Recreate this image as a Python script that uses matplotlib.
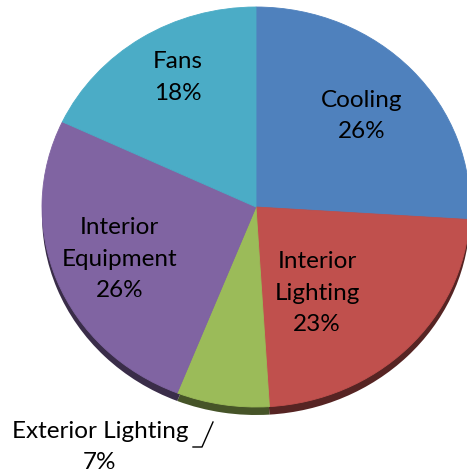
import matplotlib.pyplot as plt
import matplotlib.colors as mcolors
import numpy as np

# Energy end-use breakdown
categories = ['Cooling', 'Interior\nLighting', 'Exterior Lighting', 'Interior\nEquipment', 'Fans']
shares = [26, 23, 7, 26, 18]
colors = ['#4F81BD', '#C0504D', '#9BBB59', '#8064A2', '#4BACC6']

# label centres in pie-radius units (x: horizontal radius, y: vertical radius)
label_pos = [(0.495, 0.455), (0.285, -0.43), (-0.729, -1.198), (-0.638, -0.26), (-0.364, 0.6475)]

plt.rcParams['font.family'] = ['Lato', 'DejaVu Sans']

fig = plt.figure(figsize=(4.67, 4.73), dpi=100)
ax = fig.add_axes([0, 0, 1, 1])

# pie centre sits at pixel (256, 207); radii 214 px across, 200 px down
rx, ry = 214.0, 200.0

# darker copy underneath gives the pie some thickness
side_colors = [mcolors.to_hex(np.array(mcolors.to_rgb(c)) * 0.45) for c in colors]
ax.pie(shares, colors=side_colors, startangle=90, counterclock=False,
       center=(0, -0.04), radius=1.0, frame=True,
       wedgeprops=dict(linewidth=0))
ax.pie(shares, colors=colors, startangle=90, counterclock=False,
       center=(0, 0), radius=1.0, frame=True,
       wedgeprops=dict(linewidth=0.6))
for w, c in zip(ax.patches[len(shares):], colors):
    w.set_edgecolor(c)

ax.set_xlim(-256 / rx, (467 - 256) / rx)
ax.set_ylim(-(473 - 207) / ry, 207 / ry)
ax.set_aspect('auto')
ax.axis('off')

for name, val, (x, y) in zip(categories, shares, label_pos):
    ax.text(x, y, f'{name}\n{val}%', ha='center', va='center',
            fontsize=17.5, color='black', linespacing=1.6)

# leader line for the small slice
ax.plot([(193 - 256) / rx, (202 - 256) / rx, (213 - 256) / rx],
        [-(447 - 207) / ry, -(447 - 207) / ry, -(422 - 207) / ry],
        color='black', linewidth=1.0)

fig.savefig('out.png', dpi=100)
